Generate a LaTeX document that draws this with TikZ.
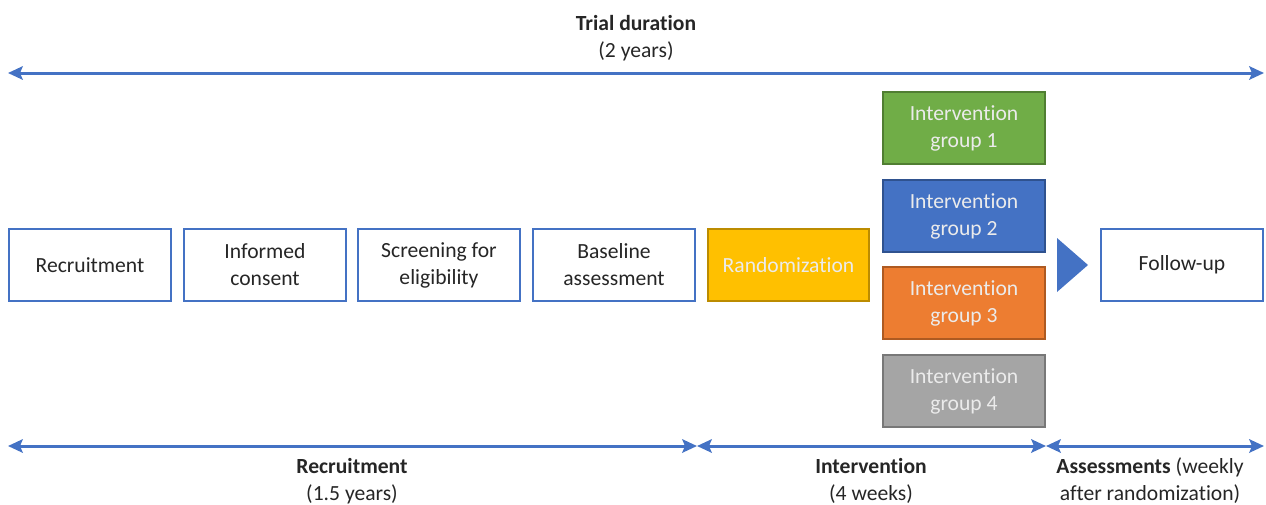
\documentclass[tikz,border=0pt]{standalone}
\usepackage{fontspec}
\setmainfont[Ligatures=CommonOff]{Carlito}
\usetikzlibrary{arrows.meta}
\definecolor{bl}{HTML}{4472C4}
\definecolor{txt}{HTML}{262626}
\definecolor{gfill}{HTML}{70AD47}\definecolor{gdraw}{HTML}{507E32}
\definecolor{bfill}{HTML}{4472C4}\definecolor{bdraw}{HTML}{2F528F}
\definecolor{ofill}{HTML}{ED7D31}\definecolor{odraw}{HTML}{AE5A21}
\definecolor{afill}{HTML}{A5A5A5}\definecolor{adraw}{HTML}{787878}
\definecolor{yfill}{HTML}{FFC000}\definecolor{ydraw}{HTML}{BC8C00}
\begin{document}
\begin{tikzpicture}[x=0.75pt,y=-0.75pt,
  every node/.style={font=\fontsize{16.2}{20.3}\selectfont, text=txt},
  stepbox/.style={draw=bl, line width=1.5pt, fill=white, minimum width=121pt, minimum height=53.5pt, align=center, inner sep=0pt},
  grpbox/.style={line width=1.5pt, minimum width=121pt, minimum height=53.5pt, align=center, inner sep=0pt, text=white!92!black},
  span/.style={draw=bl, line width=2.25pt, {Stealth[length=11pt,width=10pt,inset=2pt]}-{Stealth[length=11pt,width=10pt,inset=2pt]}},
  lbl/.style={align=center}]
\useasboundingbox (0,0) rectangle (1266,504);
% top
\node[lbl] (tt) at (636,38) {\textbf{Trial duration}\\(2 years)};
\coordinate (tl) at (8,73); \coordinate (tr) at (1264,73);
\draw[span] (tl) -- (tr);
% steps
\node[stepbox] (rec) at (90,265) {Recruitment};
\node[stepbox] (inf) at (265,265) {Informed\\consent};
\node[stepbox] (scr) at (439,265) {Screening for\\eligibility};
\node[stepbox] (bas) at (614,265) {Baseline\\assessment};
\node[grpbox, draw=ydraw, fill=yfill] (ran) at (788.5,265) {Randomization};
\node[grpbox, draw=gdraw, fill=gfill] (g1) at (964,128) {Intervention\\group 1};
\node[grpbox, draw=bdraw, fill=bfill] (g2) at (964,216) {Intervention\\group 2};
\node[grpbox, draw=odraw, fill=ofill] (g3) at (964,303) {Intervention\\group 3};
\node[grpbox, draw=adraw, fill=afill] (g4) at (964,391) {Intervention\\group 4};
\node[stepbox] (fol) at (1182,265) {Follow-up};
\fill[bl] (1057,238) -- (1088,265) -- (1057,292) -- cycle;
% bottom
\coordinate (b0) at (8,446); \coordinate (b1) at (697,446);
\coordinate (b2) at (1046,446); \coordinate (b3) at (1264,446);
\draw[span] (b0) -- (b1);
\draw[span] (b1) -- (b2);
\draw[span] (b2) -- (b3);
\node[lbl] (l1) at (352,481) {\textbf{Recruitment}\\(1.5 years)};
\node[lbl] (l2) at (871,481) {\textbf{Intervention}\\(4 weeks)};
\node[lbl] (l3) at (1150,481) {\textbf{Assessments} (weekly\\after randomization)};
\end{tikzpicture}
\end{document}
